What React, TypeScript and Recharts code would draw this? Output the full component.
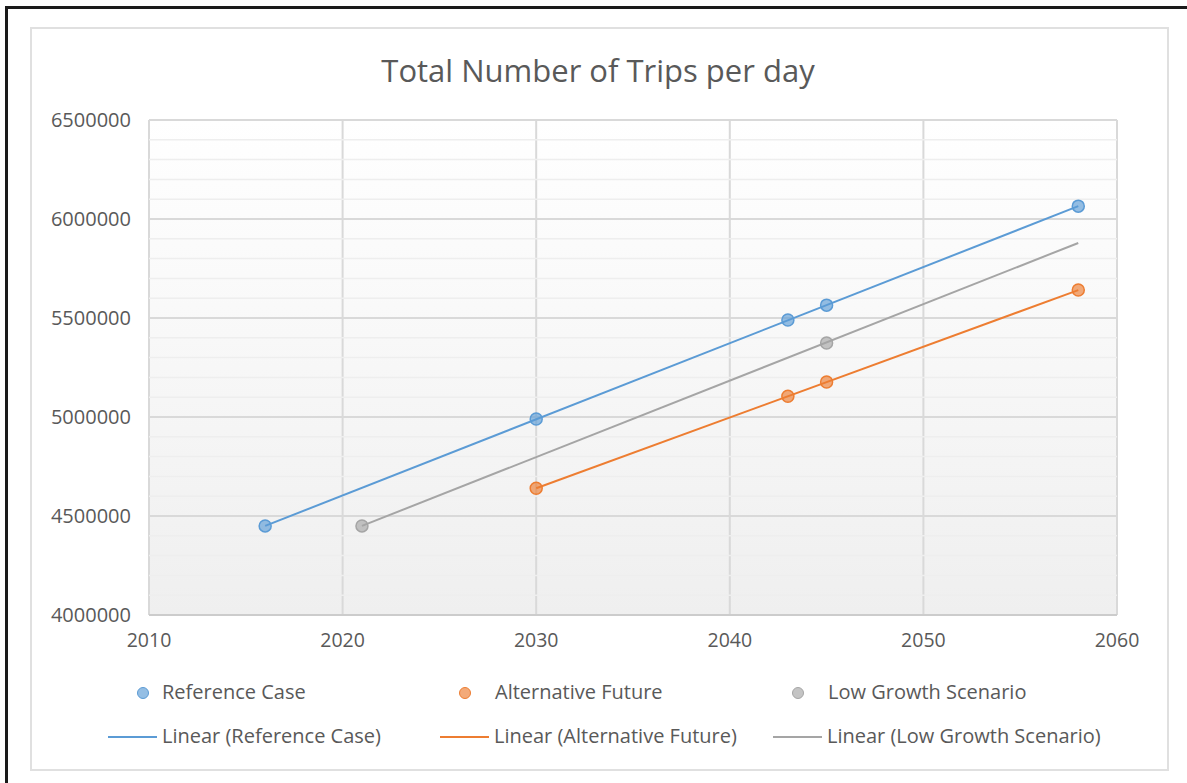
import React from 'react';
import {
  ScatterChart,
  Scatter,
  XAxis,
  YAxis,
  CartesianGrid,
  ReferenceLine,
} from 'recharts';

const refYears = [2016, 2030, 2043, 2045, 2058];
const refTrips = [4450000, 4990000, 5490000, 5565000, 6065000];
const altYears = [2030, 2043, 2045, 2058];
const altTrips = [4640000, 5105000, 5177000, 5641000];
const lowYears = [2021, 2045];
const lowTrips = [4450000, 5374000];

// trendline ends as drawn in the figure
const refTrendYears = [2016, 2058];
const refTrendTrips = [4450000, 6065000];
const altTrendYears = [2030, 2058];
const altTrendTrips = [4640000, 5641000];
const lowTrendYears = [2021, 2058];
const lowTrendTrips = [4450000, 5879000];

const xTicks = [2010, 2020, 2030, 2040, 2050, 2060];
const yTicks = [4000000, 4500000, 5000000, 5500000, 6000000, 6500000];
const yMinor = [
  4100000, 4200000, 4300000, 4400000, 4600000, 4700000, 4800000, 4900000,
  5100000, 5200000, 5300000, 5400000, 5600000, 5700000, 5800000, 5900000,
  6100000, 6200000, 6300000, 6400000,
];

const BLUE = '#5B9BD5';
const ORANGE = '#ED7D31';
const GRAY = '#A5A5A5';
const TEXT = '#595959';
const FONT = '"Open Sans", sans-serif';

const toPoints = (xs: number[], ys: number[]) => xs.map((x, i) => ({ x, y: ys[i] }));

const markerFill: Record<string, string> = {
  [BLUE]: 'rgba(91,155,213,0.65)',
  [ORANGE]: 'rgba(237,125,49,0.65)',
  [GRAY]: 'rgba(165,165,165,0.65)',
};

const dot = (color: string) => (props: any) => (
  <circle cx={props.cx} cy={props.cy} r={6} fill={markerFill[color]} stroke={color} strokeWidth={1.5} />
);

const noDot = () => <g />;

const legendRows = [
  [
    { label: 'Reference Case', color: BLUE, left: 143 },
    { label: 'Alternative Future', color: ORANGE, left: 465 },
    { label: 'Low Growth Scenario', color: GRAY, left: 798 },
  ],
  [
    { label: 'Linear (Reference Case)', color: BLUE, left: 108 },
    { label: 'Linear (Alternative Future)', color: ORANGE, left: 440 },
    { label: 'Linear (Low Growth Scenario)', color: GRAY, left: 773 },
  ],
];

const App: React.FC = () => {
  return (
    <div
      style={{
        position: 'fixed',
        left: 0,
        top: 0,
        width: 1187,
        height: 783,
        background: '#fff',
        overflow: 'hidden',
        fontFamily: FONT,
      }}
    >
      {/* page frame */}
      <div
        style={{
          position: 'absolute',
          left: 5,
          top: 6,
          width: 1300,
          height: 900,
          borderLeft: '3px solid #1a1a1a',
          borderTop: '3px solid #1a1a1a',
        }}
      />
      {/* chart box */}
      <div
        style={{
          position: 'absolute',
          left: 30,
          top: 27,
          width: 1135,
          height: 740,
          border: '2px solid #e0e0e0',
        }}
      />
      <div
        style={{
          position: 'absolute',
          left: 0,
          top: 48,
          width: 1196,
          textAlign: 'center',
          fontSize: 31,
          color: TEXT,
          lineHeight: '44px',
        }}
      >
        Total Number of Trips per day
      </div>

      <div style={{ position: 'absolute', left: 0, top: 0 }}>
        <ScatterChart
          width={1187}
          height={783}
          margin={{ top: 120, right: 70, left: 49, bottom: 128 }}
        >
          <defs>
            <linearGradient id="plotBg" x1="0" y1="0" x2="0" y2="1">
              <stop offset="0%" stopColor="#ffffff" />
              <stop offset="100%" stopColor="#efefef" />
            </linearGradient>
          </defs>
          <CartesianGrid fill="url(#plotBg)" stroke="#d9d9d9" strokeWidth={2} />
          {yMinor.map((v) => (
            <ReferenceLine key={v} y={v} stroke="#eeeeee" strokeWidth={1.5} />
          ))}
          <XAxis
            type="number"
            dataKey="x"
            domain={[2010, 2060]}
            ticks={xTicks}
            allowDataOverflow
            axisLine={{ stroke: '#cccccc', strokeWidth: 2 }}
            tickLine={false}
            tickSize={0}
            tickMargin={18}
            height={40}
            tick={{ fill: TEXT, fontSize: 19.5, fontFamily: FONT }}
          />
          <YAxis
            type="number"
            dataKey="y"
            domain={[4000000, 6500000]}
            ticks={yTicks}
            allowDataOverflow
            axisLine={false}
            tickLine={false}
            tickSize={0}
            tickMargin={18}
            width={100}
            tick={{ fill: TEXT, fontSize: 20, fontFamily: FONT }}
          />
          <Scatter
            name="Linear (Reference Case)"
            data={toPoints(refTrendYears, refTrendTrips)}
            line={{ stroke: BLUE, strokeWidth: 2 }}
            shape={noDot}
            isAnimationActive={false}
          />
          <Scatter
            name="Linear (Alternative Future)"
            data={toPoints(altTrendYears, altTrendTrips)}
            line={{ stroke: ORANGE, strokeWidth: 2 }}
            shape={noDot}
            isAnimationActive={false}
          />
          <Scatter
            name="Linear (Low Growth Scenario)"
            data={toPoints(lowTrendYears, lowTrendTrips)}
            line={{ stroke: GRAY, strokeWidth: 2 }}
            shape={noDot}
            isAnimationActive={false}
          />
          <Scatter
            name="Reference Case"
            data={toPoints(refYears, refTrips)}
            shape={dot(BLUE)}
            isAnimationActive={false}
          />
          <Scatter
            name="Alternative Future"
            data={toPoints(altYears, altTrips)}
            shape={dot(ORANGE)}
            isAnimationActive={false}
          />
          <Scatter
            name="Low Growth Scenario"
            data={toPoints(lowYears, lowTrips)}
            shape={dot(GRAY)}
            isAnimationActive={false}
          />
        </ScatterChart>
      </div>

      {/* legend */}
      {legendRows.map((row, ri) =>
        row.map((item) => {
          const cy = ri === 0 ? 693 : 737;
          return (
            <div key={item.label}>
              {ri === 0 ? (
                <div
                  style={{
                    position: 'absolute',
                    left: item.left - 6,
                    top: cy - 6,
                    width: 10,
                    height: 10,
                    borderRadius: '50%',
                    background: markerFill[item.color],
                    border: `1.5px solid ${item.color}`,
                  }}
                />
              ) : (
                <div
                  style={{
                    position: 'absolute',
                    left: item.left,
                    top: cy - 1,
                    width: 49,
                    height: 2,
                    background: item.color,
                  }}
                />
              )}
              <div
                style={{
                  position: 'absolute',
                  left: ri === 0 ? item.left + 19 + (item.color === BLUE ? 0 : 11) : item.left + 54,
                  top: cy - 15,
                  fontSize: 20,
                  lineHeight: '28px',
                  color: TEXT,
                  whiteSpace: 'nowrap',
                }}
              >
                {item.label}
              </div>
            </div>
          );
        })
      )}
    </div>
  );
};

export default App;
